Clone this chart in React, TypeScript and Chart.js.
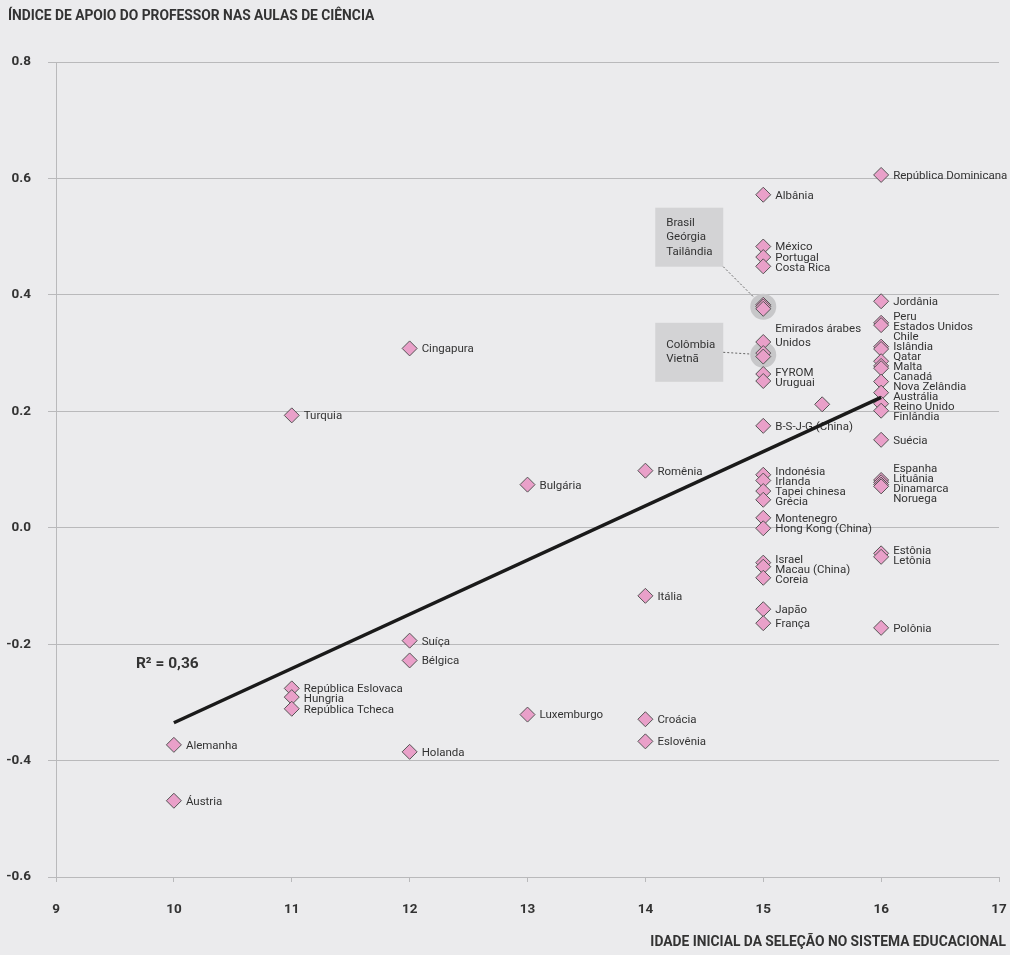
import React, { useEffect, useRef } from "react";
import { Chart, registerables } from "chart.js";

Chart.register(...registerables);

// ---------- DATA ----------
const countries: string[] = [
  "Áustria", "Alemanha",
  "Turquia", "República Eslovaca", "Hungria", "República Tcheca",
  "Cingapura", "Suíça", "Bélgica", "Holanda",
  "Bulgária", "Luxemburgo",
  "Romênia", "Itália", "Croácia", "Eslovênia",
  "Albânia", "México", "Portugal", "Costa Rica", "Brasil", "Geórgia", "Tailândia",
  "Emirados árabes\nUnidos", "Colômbia", "Vietnã", "FYROM", "Uruguai", "B-S-J-G (China)",
  "Indonésia", "Irlanda", "Tapei chinesa", "Grécia", "Montenegro", "Hong Kong (China)",
  "Israel", "Macau (China)", "Coreia", "Japão", "França",
  "",
  "República Dominicana", "Jordânia", "Peru", "Estados Unidos", "Chile", "Islândia",
  "Qatar", "Malta", "Canadá", "Nova Zelândia", "Austrália", "Reino Unido", "Finlândia",
  "Suécia", "Espanha", "Lituânia", "Dinamarca", "Noruega", "Estônia", "Letônia", "Polônia",
];

const ages: number[] = [
  10, 10,
  11, 11, 11, 11,
  12, 12, 12, 12,
  13, 13,
  14, 14, 14, 14,
  15, 15, 15, 15, 15, 15, 15,
  15, 15, 15, 15, 15, 15,
  15, 15, 15, 15, 15, 15,
  15, 15, 15, 15, 15,
  15.5,
  16, 16, 16, 16, 16, 16,
  16, 16, 16, 16, 16, 16, 16,
  16, 16, 16, 16, 16, 16, 16, 16,
];

const supportIndex: number[] = [
  -0.469, -0.373,
  0.193, -0.276, -0.291, -0.311,
  0.308, -0.194, -0.228, -0.385,
  0.074, -0.321,
  0.098, -0.117, -0.329, -0.367,
  0.572, 0.483, 0.465, 0.449, 0.383, 0.380, 0.376,
  0.319, 0.300, 0.294, 0.264, 0.252, 0.175,
  0.091, 0.081, 0.063, 0.048, 0.017, -0.001,
  -0.060, -0.067, -0.086, -0.140, -0.164,
  0.212,
  0.606, 0.389, 0.352, 0.348, 0.311, 0.307,
  0.286, 0.278, 0.274, 0.251, 0.232, 0.213, 0.201,
  0.151, 0.082, 0.078, 0.074, 0.071, -0.044, -0.050, -0.172,
];

const trendAges: number[] = [10, 16];
const trendValues: number[] = [-0.335, 0.224];
const r2Label = "R² = 0,36";

const xMin = 9;
const xMax = 17;
const yMin = -0.6;
const yMax = 0.8;

const yTitle = "ÍNDICE DE APOIO DO PROFESSOR NAS AULAS DE CIÊNCIA";
const xTitle = "IDADE INICIAL DA SELEÇÃO NO SISTEMA EDUCACIONAL";

const calloutGroups: string[][] = [
  ["Brasil", "Geórgia", "Tailândia"],
  ["Colômbia", "Vietnã"],
];

// ---------- STYLE ----------
const BG = "#ebebed";
const TEXT = "#333333";
const GRID = "#b9b9bb";
const POINT_FILL = "#e9a0c9";
const POINT_BORDER = "#555555";
const FONT = "Roboto";

const calloutStyles = [
  { dx: -108, dy: -99, w: 68, h: 59, anchor: "corner" },
  { dx: -108, dy: -32, w: 68, h: 59, anchor: "middle" },
];

function layoutColumn(items: { y: number; idx: number }[], gap: number) {
  const sorted = [...items].sort((a, b) => a.y - b.y);
  let groups = sorted.map((it) => ({ members: [it], center: it.y }));
  const top = (g: any) => g.center - ((g.members.length - 1) / 2) * gap;
  const bottom = (g: any) => g.center + ((g.members.length - 1) / 2) * gap;
  let changed = true;
  while (changed) {
    changed = false;
    for (let i = 0; i < groups.length - 1; i++) {
      if (bottom(groups[i]) + gap > top(groups[i + 1])) {
        const members = [...groups[i].members, ...groups[i + 1].members];
        const center = members.reduce((s, m) => s + m.y, 0) / members.length;
        groups.splice(i, 2, { members, center });
        changed = true;
        break;
      }
    }
  }
  const out: Record<number, number> = {};
  groups.forEach((g) => {
    const t = top(g);
    g.members.forEach((m, k) => {
      out[m.idx] = t + k * gap;
    });
  });
  return out;
}

const chartPlugin = {
  id: "customDecor",
  beforeDraw(chart: any) {
    const { ctx, width, height } = chart;
    ctx.save();
    ctx.fillStyle = BG;
    ctx.fillRect(0, 0, width, height);
    ctx.restore();
  },
  beforeDatasetsDraw(chart: any) {
    const { ctx } = chart;
    const xs = chart.scales.x;
    const ys = chart.scales.y;
    ctx.save();
    calloutGroups.forEach((group) => {
      const idxs = group.map((n) => countries.indexOf(n));
      const cx = idxs.reduce((s, i) => s + xs.getPixelForValue(ages[i]), 0) / idxs.length;
      const cy = idxs.reduce((s, i) => s + ys.getPixelForValue(supportIndex[i]), 0) / idxs.length;
      ctx.beginPath();
      ctx.arc(cx, cy, 13, 0, Math.PI * 2);
      ctx.fillStyle = "#c7c7c9";
      ctx.fill();
    });
    ctx.restore();
  },
  afterDatasetDraw(chart: any, args: any) {
    if (args.index !== 0) return;
    const { ctx } = chart;
    const xs = chart.scales.x;
    const ys = chart.scales.y;
    const skip = new Set<string>(calloutGroups.flat());
    ctx.save();
    ctx.font = `11.5px ${FONT}`;
    ctx.fillStyle = TEXT;
    ctx.textBaseline = "middle";
    ctx.textAlign = "left";
    const columns: Record<string, { y: number; idx: number }[]> = {};
    countries.forEach((name, i) => {
      if (!name || skip.has(name)) return;
      const key = String(ages[i]);
      (columns[key] = columns[key] || []).push({ y: ys.getPixelForValue(supportIndex[i]), idx: i });
    });
    Object.keys(columns).forEach((key) => {
      const pos = layoutColumn(columns[key], 10);
      columns[key].forEach((it) => {
        const px = xs.getPixelForValue(ages[it.idx]) + 12;
        const lines = countries[it.idx].split("\n");
        const baseY = pos[it.idx] + 1;
        lines.forEach((ln, k) => {
          ctx.fillText(ln, px, baseY - (lines.length - 1 - k) * 13.5);
        });
      });
    });

    // callout boxes
    calloutGroups.forEach((group, gi) => {
      const st = calloutStyles[gi];
      const idxs = group.map((n) => countries.indexOf(n));
      const cx = idxs.reduce((s, i) => s + xs.getPixelForValue(ages[i]), 0) / idxs.length;
      const cy = idxs.reduce((s, i) => s + ys.getPixelForValue(supportIndex[i]), 0) / idxs.length;
      const bx = cx + st.dx;
      const by = cy + st.dy;
      ctx.fillStyle = "#d3d3d5";
      ctx.fillRect(bx, by, st.w, st.h);
      ctx.fillStyle = TEXT;
      const lh = 14.5;
      const startY = by + st.h / 2 - ((group.length - 1) / 2) * lh;
      group.forEach((n, k) => ctx.fillText(n, bx + 11, startY + k * lh));
      const ax = bx + st.w;
      const ay = st.anchor === "corner" ? by + st.h : by + st.h / 2;
      const ddx = cx - ax;
      const ddy = cy - ay;
      const d = Math.hypot(ddx, ddy);
      const ex = cx - (ddx / d) * 13;
      const ey = cy - (ddy / d) * 13;
      ctx.beginPath();
      ctx.setLineDash([2, 2]);
      ctx.strokeStyle = "#666";
      ctx.lineWidth = 1;
      ctx.moveTo(ax, ay);
      ctx.lineTo(ex, ey);
      ctx.stroke();
      ctx.setLineDash([]);
    });
    ctx.restore();
  },
  afterDraw(chart: any) {
    const { ctx, width } = chart;
    const xs = chart.scales.x;
    const ys = chart.scales.y;
    ctx.save();
    ctx.fillStyle = TEXT;
    ctx.textBaseline = "middle";
    ctx.font = `bold 13.8px ${FONT}`;
    ctx.textAlign = "left";
    ctx.fillText(yTitle, 8, 17);
    ctx.textAlign = "right";
    ctx.fillText(xTitle, width - 4, 943);
    ctx.font = `bold 15.5px ${FONT}`;
    ctx.textAlign = "left";
    const lx = xs.getPixelForValue(trendAges[0]) - 38;
    const ly = ys.getPixelForValue(trendValues[0]) - 59;
    ctx.fillText(r2Label, lx, ly);
    ctx.restore();
  },
};

export default function App() {
  const canvasRef = useRef<HTMLCanvasElement | null>(null);

  useEffect(() => {
    const canvas = canvasRef.current;
    if (!canvas) return;
    document.body.style.margin = "0";
    document.body.style.background = BG;

    const scatterData = countries.map((_, i) => ({ x: ages[i], y: supportIndex[i] }));
    const trendData = trendAges.map((a, i) => ({ x: a, y: trendValues[i] }));

    const chart = new Chart(canvas, {
      type: "scatter",
      data: {
        datasets: [
          {
            type: "scatter",
            label: "Países",
            data: scatterData,
            pointStyle: "rectRot",
            pointRadius: 7.5,
            pointBackgroundColor: POINT_FILL,
            pointBorderColor: POINT_BORDER,
            pointBorderWidth: 1,
            order: 1,
            clip: false as any,
          },
          {
            type: "line",
            label: "Tendência",
            data: trendData,
            borderColor: "#1a1a1a",
            borderWidth: 3.5,
            pointRadius: 0,
            fill: false,
            order: 0,
          },
        ],
      },
      options: {
        responsive: false,
        animation: false,
        events: [],
        layout: { padding: { left: 2, right: 11, top: 62, bottom: 0 } },
        plugins: {
          legend: { display: false },
          tooltip: { enabled: false },
          title: { display: false },
        },
        scales: {
          x: {
            type: "linear",
            min: xMin,
            max: xMax,
            ticks: {
              stepSize: 1,
              color: TEXT,
              font: { family: FONT, size: 13.5, weight: "bold" },
              padding: 20,
            },
            grid: {
              drawOnChartArea: false,
              drawTicks: true,
              tickLength: 5,
              color: GRID,
            },
            border: { display: true, color: GRID, width: 1 },
            afterFit: (scale: any) => {
              scale.height = 78;
              scale.paddingLeft = 0;
              scale.paddingRight = 0;
            },
          },
          y: {
            type: "linear",
            min: yMin,
            max: yMax,
            ticks: {
              stepSize: 0.2,
              color: TEXT,
              font: { family: FONT, size: 13.5, weight: "bold" },
              crossAlign: "near",
              padding: 17,
              callback: (v: any) => {
                const n = Number(v);
                return Math.abs(n) < 1e-9 ? "0.0" : n.toFixed(1);
              },
            },
            grid: {
              color: GRID,
              lineWidth: 1,
              tickLength: 8,
            },
            border: { display: true, color: GRID, width: 1 },
            afterFit: (scale: any) => {
              scale.width = 54;
            },
          },
        },
      },
      plugins: [chartPlugin],
    } as any);

    return () => chart.destroy();
  }, []);

  return (
    <div style={{ position: "absolute", left: 0, top: 0, width: 1010, height: 955, background: BG }}>
      <canvas ref={canvasRef} width={1010} height={955} style={{ display: "block" }} />
    </div>
  );
}
